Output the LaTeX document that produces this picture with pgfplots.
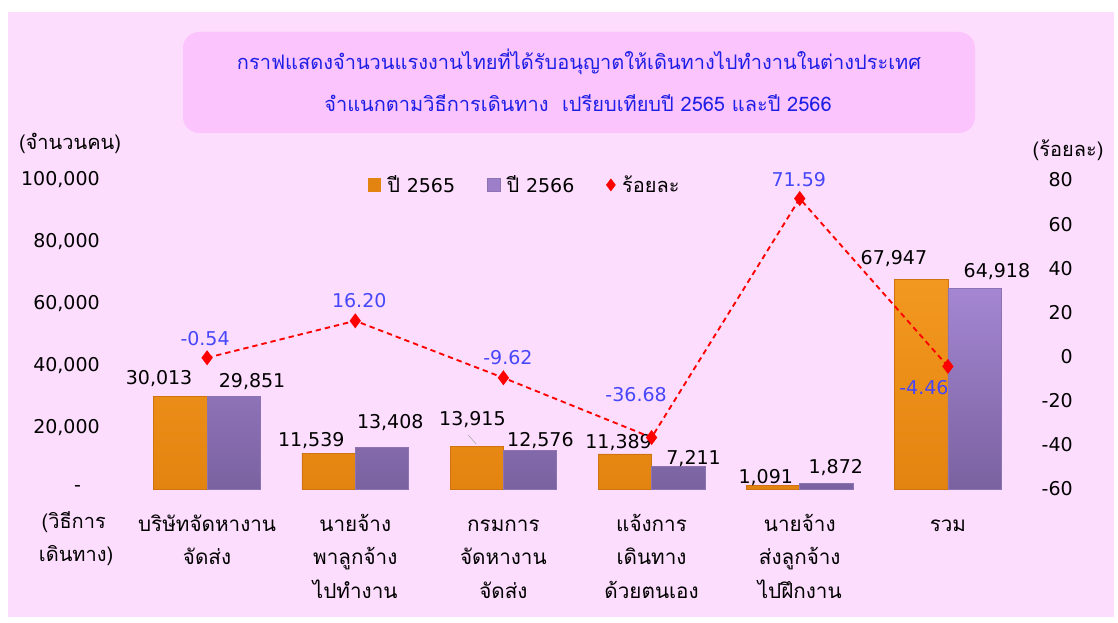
\documentclass[border=0pt]{standalone}
\usepackage{fontspec}
\setmainfont[Script=Thai]{Loma}
\newfontfamily\numf{DejaVu Sans}
\usepackage{pgfplots}
\pgfplotsset{compat=1.18}
\usepackage{pgfplotstable}

\definecolor{bgpink}{RGB}{253,221,253}
\definecolor{boxpink}{RGB}{252,196,252}
\definecolor{titleblue}{RGB}{30,30,230}
\definecolor{lblblue}{RGB}{70,70,250}
\definecolor{orangetop}{RGB}{242,152,32}
\definecolor{orangebot}{RGB}{228,132,16}
\definecolor{orangedraw}{RGB}{205,115,15}
\definecolor{purptop}{RGB}{164,134,210}
\definecolor{purpbot}{RGB}{122,98,160}
\definecolor{purpdraw}{RGB}{140,115,180}

% dx, dy: label offset (pt) from the group centre / bar top
\pgfplotstableread{
x y dx dy
0 30013 -36 13.5
1 11539 -33 9.75
2 13915 -23.25 19.5
3 11389 -24.75 8.25
4 1091 -25.5 6
5 67947 -40.5 15
}\tblA
\pgfplotstableread{
x y dx dy
0 29851 33.75 11.25
1 13408 26.25 18.75
2 12576 27.75 7.5
3 7211 31.5 5.75
4 1872 27 12
5 64918 36.75 12.75
}\tblB
\pgfplotstableread{
x y dx dy
0 -0.54 -1.5 14.7
1 16.20 3 14.85
2 -9.62 3.4 14.85
3 -36.68 -11.6 32
4 71.59 -0.75 14
5 -4.46 -18 -16.2
}\tblC

\newcommand{\fs}{\fontsize{15}{18}\selectfont}
\newcommand{\nfs}{\numf\fontsize{14.25}{17}\selectfont}
\newcommand{\st}{\rule{0pt}{16pt}}

\begin{document}
\begin{tikzpicture}
\fill[white] (0,0) rectangle (838.5pt,466.5pt);
\fill[bgpink] (6pt,3.75pt) rectangle (835.5pt,457.5pt);
\fill[boxpink, rounded corners=12pt] (137.25pt,366.75pt) rectangle (731.25pt,442.5pt);
\node[titleblue, font=\fs] at (434.25pt,420pt) {กราฟแสดงจำนวนแรงงานไทยที่ได้รับอนุญาตให้เดินทางไปทำงานในต่างประเทศ};
\node[titleblue, font=\fs] at (433.5pt,389.25pt) {จำแนกตามวิธีการเดินทาง~~เปรียบเทียบปี 2565 และปี 2566};
\node[font=\fs] at (52.5pt,359.25pt) {(จำนวนคน)};
\node[font=\fs] at (801pt,354pt) {(ร้อยละ)};
\node[font=\fs, anchor=west, inner sep=0pt] at (31pt,75pt) {(วิธีการ};
\node[font=\fs, anchor=west, inner sep=0pt] at (29pt,49.5pt) {เดินทาง)};

\pgfplotsset{
  every axis/.append style={
    scale only axis, width=666.75pt, height=231.75pt,
    at={(99.75pt,99.75pt)}, anchor=south west,
    xmin=-0.5, xmax=5.5,
    axis line style={draw=none}, major tick length=0pt,
    scaled y ticks=false,
    /pgf/number format/assume math mode=true,
    tick label style={font=\nfs},
  },
}

\begin{axis}[
  ymin=0, ymax=100000,
  axis y line*=left, axis x line*=bottom,
  ytick={0,20000,40000,60000,80000,100000},
  yticklabels={{-\kern14pt},{20,000},{40,000},{60,000},{80,000},{100,000}},
  yticklabel style={inner sep=0pt, anchor=east, xshift=-24.75pt},
  xtick={0,1,2,3,4,5},
  xticklabels={{\st บริษัทจัดหางาน\\จัดส่ง},{\st นายจ้าง\\พาลูกจ้าง\\ไปทำงาน},{\st กรมการ\\จัดหางาน\\จัดส่ง},{\st แจ้งการ\\เดินทาง\\ด้วยตนเอง},{\st นายจ้าง\\ส่งลูกจ้าง\\ไปฝึกงาน},{\st รวม}},
  xticklabel style={align=center, anchor=north, yshift=-12.25pt, font=\fontsize{15.5}{25}\selectfont},
  bar width=0.36,
  nodes near coords={\pgfmathprintnumber[fixed,precision=0,1000 sep={,}]{\pgfplotspointmeta}},
  point meta=y,
  visualization depends on={\thisrow{dx} \as \dx},
  visualization depends on={\thisrow{dy} \as \dy},
  nodes near coords style={anchor=center, xshift=\dx pt, yshift=\dy pt, font=\nfs, black},
]
\addplot[ybar, bar shift=-0.18, draw=orangedraw, top color=orangetop, bottom color=orangebot]
  table[x=x, y=y] {\tblA};
\addplot[ybar, bar shift=0.18, draw=purpdraw, top color=purptop, bottom color=purpbot]
  table[x=x, y=y] {\tblB};
\draw[black!35, line width=0.4pt] (axis cs:1.762,17476) -- (axis cs:1.816,14563);
\end{axis}

\begin{axis}[
  ymin=-60, ymax=80,
  axis y line*=right, axis x line=none,
  ytick={-60,-40,-20,0,20,40,60,80},
  yticklabel style={inner sep=0pt, anchor=east, xshift=38.25pt},
  point meta=y,
  visualization depends on={\thisrow{dx} \as \dx},
  visualization depends on={\thisrow{dy} \as \dy},
  legend columns=3,
  legend style={at={(0.441,0.984)}, anchor=center, draw=none, fill=none, font=\fs,
    /tikz/every odd column/.append style={column sep=3pt},
    /tikz/every even column/.append style={column sep=22pt}},
]
\addlegendimage{only marks, mark=square*, mark size=4.8pt, mark options={draw=orangebot, fill=orangebot}}
\addlegendentry{ปี {\nfs 2565}}
\addlegendimage{only marks, mark=square*, mark size=4.8pt, mark options={draw=purpdraw, fill=purptop!80!purpbot}}
\addlegendentry{ปี {\nfs 2566}}
\addlegendimage{only marks, mark=diamond*, mark size=4.5pt, mark options={draw=red, fill=red}}
\addlegendentry{ร้อยละ}
\addplot[red, line width=1.4pt, dash pattern=on 4pt off 3pt, mark=diamond*, mark size=4.5pt,
  mark options={solid, fill=red, draw=red}, forget plot,
  nodes near coords={\pgfmathprintnumber[fixed,fixed zerofill,precision=2]{\pgfplotspointmeta}},
  nodes near coords style={anchor=center, xshift=\dx pt, yshift=\dy pt, font=\nfs, lblblue}]
  table[x=x, y=y] {\tblC};
\end{axis}
\end{tikzpicture}
\end{document}
